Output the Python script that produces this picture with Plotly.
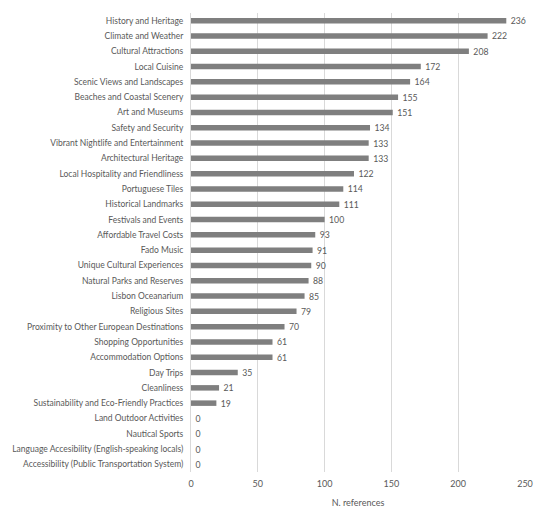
import plotly.graph_objects as go

categories = [
    "History and Heritage", "Climate and Weather", "Cultural Attractions", "Local Cuisine",
    "Scenic Views and Landscapes", "Beaches and Coastal Scenery", "Art and Museums",
    "Safety and Security", "Vibrant Nightlife and Entertainment", "Architectural Heritage",
    "Local Hospitality and Friendliness", "Portuguese Tiles", "Historical Landmarks",
    "Festivals and Events", "Affordable Travel Costs", "Fado Music",
    "Unique Cultural Experiences", "Natural Parks and Reserves", "Lisbon Oceanarium",
    "Religious Sites", "Proximity to Other European Destinations", "Shopping Opportunities",
    "Accommodation Options", "Day Trips", "Cleanliness",
    "Sustainability and Eco-Friendly Practices", "Land Outdoor Activities", "Nautical Sports",
    "Language Accesibility (English-speaking locals)",
    "Accessibility (Public Transportation System)",
]
values = [236, 222, 208, 172, 164, 155, 151, 134, 133, 133, 122, 114, 111, 100, 93, 91,
          90, 88, 85, 79, 70, 61, 61, 35, 21, 19, 0, 0, 0, 0]
x_ticks = [0, 50, 100, 150, 200, 250]

font = "Lato, Liberation Sans, sans-serif"
txt = "#595959"

fig = go.Figure(go.Bar(
    y=categories, x=values, orientation="h",
    marker=dict(color="#7f7f7f", line=dict(width=0)),
    texttemplate="  %{x}", textposition="outside",
    textfont=dict(family=font, size=8.7, color=txt),
    constraintext="none",
    cliponaxis=False,
))
fig.update_layout(
    width=539, height=513,
    margin=dict(l=183, r=22, t=5, b=49),
    paper_bgcolor="white", plot_bgcolor="white",
    bargap=0.64,
    showlegend=False,
    font=dict(family=font, size=9, color=txt),
)
fig.update_yaxes(autorange="reversed", showgrid=False, ticks="outside", ticklen=5,
                 tickcolor="rgba(0,0,0,0)",
                 showline=True, linecolor="#d9d9d9", linewidth=1,
                 tickfont=dict(family=font, size=8.5, color=txt), automargin=False)
fig.update_xaxes(range=[0, 250], tickvals=x_ticks, showgrid=True, gridcolor="#d9d9d9",
                 gridwidth=1, zeroline=False, showline=False,
                 ticks="outside", ticklen=3, tickcolor="rgba(0,0,0,0)",
                 tickfont=dict(family=font, size=9, color=txt),
                 title=dict(text="N. references", font=dict(family=font, size=9, color=txt), standoff=11),
                 automargin=False)
fig.write_html("out.html")
